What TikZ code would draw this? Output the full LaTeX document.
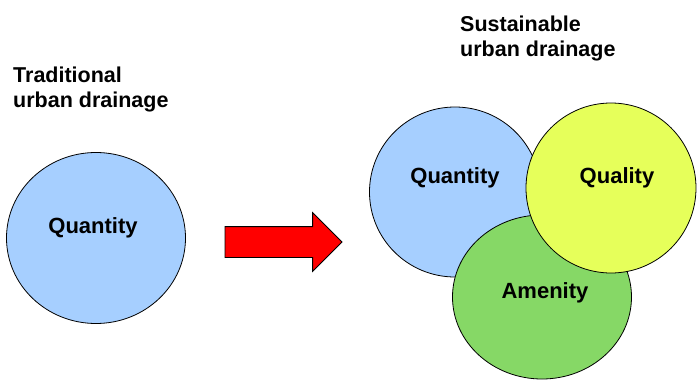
\documentclass[tikz,border=0pt]{standalone}
\usepackage{fontspec}
\setmainfont{Liberation Sans}
\usetikzlibrary{positioning,shapes.geometric,shapes.arrows}

\definecolor{qblue}{RGB}{166,207,255}
\definecolor{qyellow}{RGB}{230,255,90}
\definecolor{agreen}{RGB}{134,216,102}

\begin{document}
\begin{tikzpicture}[x=1pt,y=-1pt]
\tikzstyle{pool}=[ellipse,draw,line width=0.8pt,inner sep=0pt]
\tikzstyle{lbl}=[inner sep=0pt,font=\fontsize{22}{22}\selectfont\bfseries]
\tikzstyle{ttl}=[inner sep=0pt,anchor=north west,align=left,font=\fontsize{21.5}{25}\selectfont\bfseries]

\useasboundingbox (0,0) rectangle (697,380);

% Traditional
\node[ttl] (TT) at (13,67) {Traditional\\urban drainage};
\node[pool,fill=qblue,minimum width=179pt,minimum height=171pt] (L) at (96,238) {};
\node[lbl] (LQ) at ([xshift=-3pt,yshift=10pt]L.center) {Quantity};

% Arrow
\node[single arrow,draw,fill=red,line width=0.8pt,inner xsep=0pt,inner ysep=15pt,outer sep=0pt,
  single arrow head extend=14pt,minimum height=117pt,anchor=west] (AR) at (225,242) {};

% Sustainable
\node[ttl] (ST) at (460,16) {Sustainable\\urban drainage};
\node[pool,fill=qblue,minimum width=171pt,minimum height=170pt] (RQ) at (455,192) {};
\node[pool,fill=agreen,minimum width=179pt,minimum height=164pt] (RA) at (542,297) {};
\node[pool,fill=qyellow,minimum width=170pt,minimum height=170pt] (RL) at (611,188) {};
\node[lbl] (RQT) at ([yshift=14pt]RQ.center) {Quantity};
\node[lbl] (RLT) at ([xshift=6pt,yshift=10pt]RL.center) {Quality};
\node[lbl] (RAT) at ([xshift=3pt,yshift=4pt]RA.center) {Amenity};
\end{tikzpicture}
\end{document}
